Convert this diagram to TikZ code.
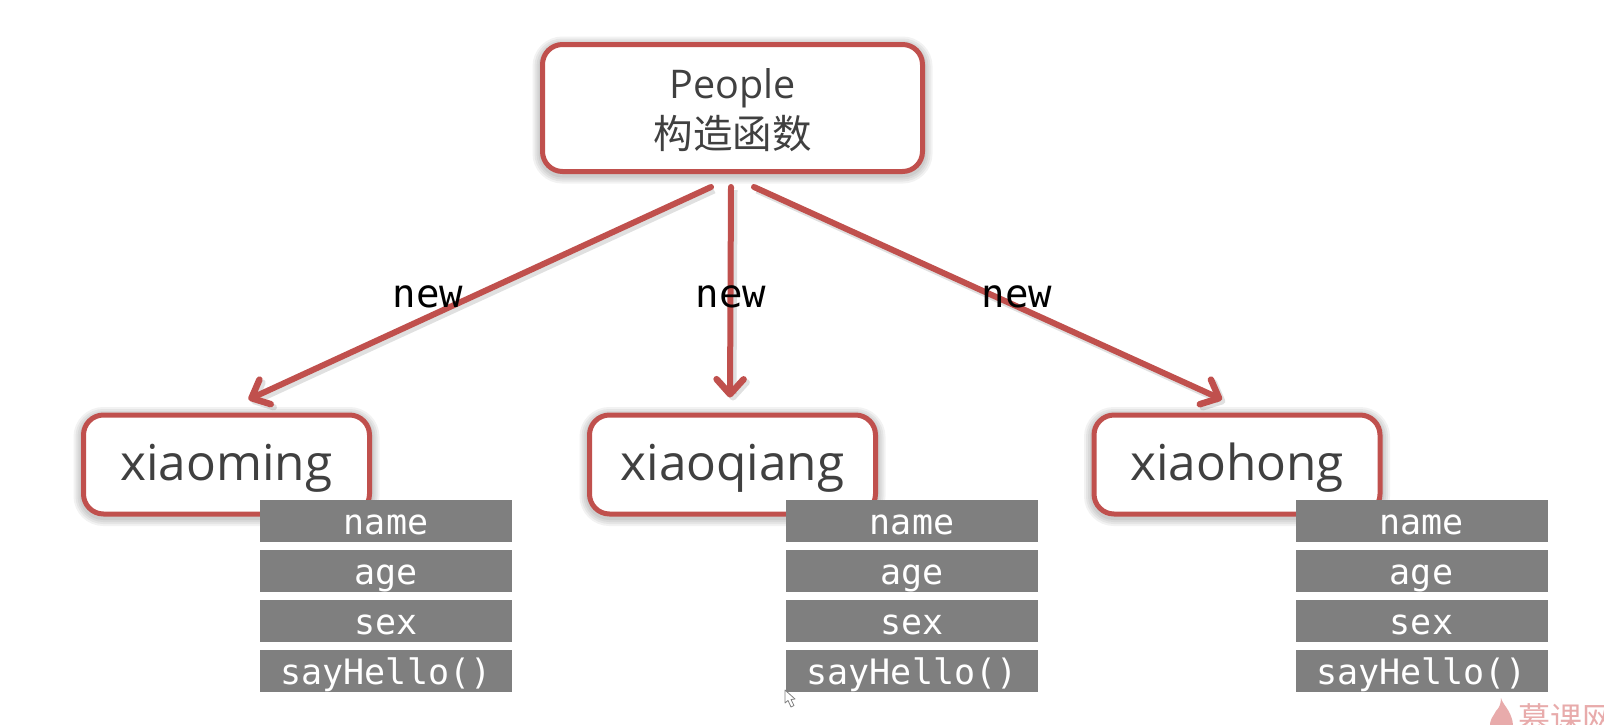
\documentclass[tikz,border=0pt]{standalone}
\usepackage{fontspec}
\setmainfont{Open Sans}
\setmonofont{DejaVu Sans Mono}
\newfontfamily\cjkfont{Noto Sans CJK SC}
\usetikzlibrary{arrows.meta,shadows}
\definecolor{boxred}{HTML}{C0504D}
\definecolor{boxtext}{HTML}{404040}
\definecolor{attrgray}{HTML}{7F7F7F}
\definecolor{markpink}{HTML}{E8ABAB}
\tikzset{
	softshadow/.style={general shadow={shadow xshift=0pt, shadow yshift=-2pt, fill=none, draw=black, line width=#1, draw opacity=0.05}},
	objbox/.style={draw=boxred, line width=5pt, rounded corners=20pt, fill=white, text=boxtext, align=center, inner sep=0pt,
		softshadow=8pt, softshadow=12pt, softshadow=16pt, softshadow=20pt},
	attrbox/.style={fill=attrgray, text=white, minimum width=252pt, minimum height=42pt, inner sep=0pt, text height=26pt, text depth=0pt, font=\ttfamily\fontsize{35}{36}\selectfont},
	newarrow/.style={draw=boxred, line width=6pt, line cap=round, -{Straight Barb[length=15pt, width=27pt, line width=6.5pt, round]},
		preaction={draw=black, draw opacity=0.12, line width=7pt, transform canvas={xshift=3pt, yshift=-3pt}}},
	newlabel/.style={inner sep=0pt, text=black, font=\ttfamily\fontsize{39}{39}\selectfont}
}
\begin{document}
\begin{tikzpicture}[x=1pt, y=-1pt]
	
	\clip (0, 0) rectangle (1604, 724);
	\fill[white] (0, 0) rectangle (1604, 724);
	
	\node[objbox, minimum width=380pt, minimum height=127pt, font=\fontsize{39.5}{47}\selectfont] (people) at (732.5, 108) {\rule{0pt}{34pt}People\\[3pt]{\cjkfont 构造函数}};
	
	\foreach \objname/\xpos in {xiaoming/226.5, xiaoqiang/732.5, xiaohong/1237}
		\node[objbox, minimum width=286pt, minimum height=99pt, text height=32pt, text depth=0pt, font=\fontsize{49.5}{50}\selectfont] (\objname) at (\xpos, 464.5) {\objname};
	
	\draw[newarrow] ([shift={(-21.5, 13)}]people.south) -- ([shift={(22, -13)}]xiaoming.north);
	\draw[newarrow] ([shift={(-1.5, 13)}]people.south) -- ([shift={(-2.5, -15)}]xiaoqiang.north);
	\draw[newarrow] ([shift={(21.5, 13)}]people.south) -- ([shift={(-15, -13)}]xiaohong.north);
	
	\node[newlabel] (newa) at (428, 297) {new};
	\node[newlabel] (newb) at (731, 297) {new};
	\node[newlabel] (newc) at (1017, 297) {new};
	
	\foreach \objname/\xpos in {a/386, b/912, c/1421.5} {
		\node[attrbox] (name\objname) at (\xpos, 521) {name};
		\node[attrbox] (age\objname) at (\xpos, 571) {age};
		\node[attrbox] (sex\objname) at (\xpos, 621) {sex};
		\node[attrbox] (hello\objname) at (\xpos, 671) {sayHello()};
	}
	
	% watermark
	\fill[markpink] (1501, 698) .. controls (1503, 706) and (1514, 712) .. (1513, 730) -- (1490, 730) .. controls (1489, 718) and (1494, 716) .. (1496, 711) .. controls (1499, 708) and (1501, 704) .. (1501, 698);
	\node[anchor=north west, inner sep=0pt, text=markpink, font=\cjkfont\fontsize{32}{32}\selectfont] (mark) at (1518, 703) {慕课网};
	
	% mouse pointer
	\draw[gray, fill=white, line width=0.8pt, line join=round] (785, 690) -- (785, 703) -- (788, 700.5) -- (791, 707) -- (794, 705.5) -- (791, 699.5) -- (795, 699) -- cycle;
	
\end{tikzpicture}
\end{document}
